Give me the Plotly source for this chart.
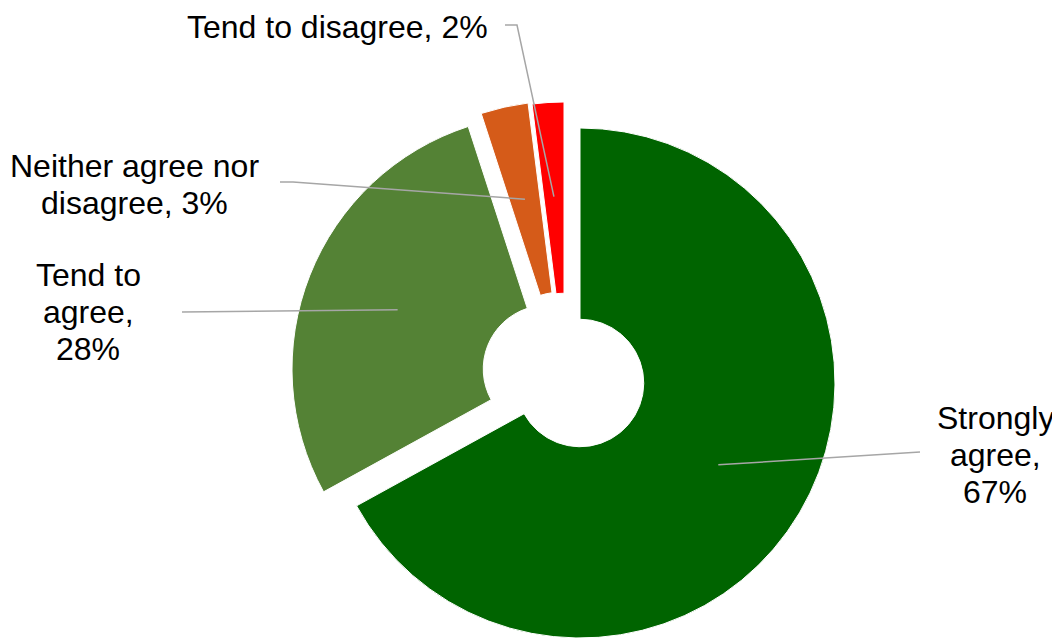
import math
import plotly.graph_objects as go

# ---- data ----
categories = ["Strongly agree", "Tend to agree", "Neither agree nor disagree", "Tend to disagree"]
values = [67, 28, 3, 2]
label_templates = ["Strongly<br>agree,<br>{p}%", "Tend to<br>agree,<br>{p}%",
                   "Neither agree nor<br>disagree, {p}%", "Tend to disagree, {p}%"]

# ---- style / layout (positions given in page pixels) ----
colors = ["#006400", "#548235", "#D55B19", "#FF0000"]
W, H = 1060, 639
OFF = 8                            # default body margin of the html page
CX, CY, R = 580, 383, 255          # doughnut centre / radius
HOLE = 0.25
explode_px = [(0, 0), (-33, -14), (-20, -27), (-16, -26)]   # slice offsets
label_pos = [(995, 418), (88, 275), (134, 166), (337, 27)]   # centre of first line
LINE_H = 37
FONT_SIZE = 32
leader_start = [[(920, 452)], [(182, 312)], [(280, 182), (293, 182)], [(505, 25), (517, 25)]]
LEADER_R = 0.63
FONT = "Liberation Sans, Arial, sans-serif"


def px(x):
    return (x - OFF) / W


def py(y):
    return 1 - (y - OFF) / H


total = sum(values)
fig = go.Figure()
start = 0.0
shapes = []
annotations = []
for i, (cat, v) in enumerate(zip(categories, values)):
    ang = 360.0 * v / total
    dx, dy = explode_px[i]
    cx, cy = CX + dx, CY + dy
    fig.add_trace(go.Pie(
        values=[v, total - v],
        labels=[cat, "_rest"],
        sort=False,
        direction="clockwise",
        rotation=start,
        hole=HOLE,
        marker=dict(colors=[colors[i], "rgba(0,0,0,0)"],
                    line=dict(color=["white", "rgba(0,0,0,0)"], width=[1, 0])),
        textinfo="none",
        hoverinfo="label+percent",
        showlegend=False,
        domain=dict(x=[px(cx - R), px(cx + R)], y=[py(cy + R), py(cy - R)]),
    ))
    # leader line end point on the slice bisector
    mid = math.radians(start + ang / 2)
    ex = cx + LEADER_R * R * math.sin(mid)
    ey = cy - LEADER_R * R * math.cos(mid)
    pts = leader_start[i] + [(ex, ey)]
    path = "M " + " L ".join(f"{px(a):.5f},{py(b):.5f}" for a, b in pts)
    shapes.append(dict(type="path", xref="paper", yref="paper", path=path,
                       line=dict(color="#A6A6A6", width=1.5)))
    lx, ly = label_pos[i]
    for k, line in enumerate(label_templates[i].format(p=v).split("<br>")):
        annotations.append(dict(x=px(lx), y=py(ly + k * LINE_H), xref="paper", yref="paper",
                                text=line, showarrow=False,
                                xanchor="center", yanchor="middle", align="center",
                                font=dict(family=FONT, size=FONT_SIZE, color="black")))
    start += ang

fig.update_layout(
    width=W, height=H,
    margin=dict(l=0, r=0, t=0, b=0),
    paper_bgcolor="white", plot_bgcolor="white",
    shapes=shapes, annotations=annotations,
    font=dict(family=FONT),
)
fig.write_html("out.html")
